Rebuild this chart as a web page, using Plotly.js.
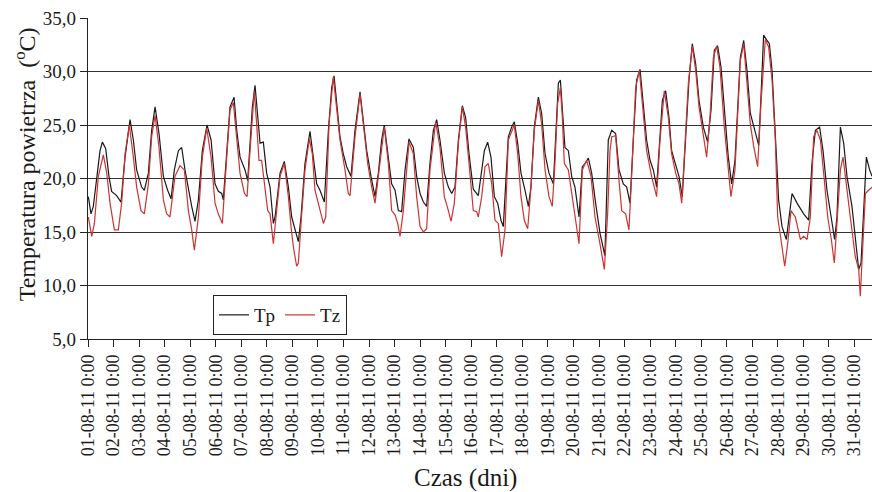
<!DOCTYPE html>
<html>
<head>
<meta charset="utf-8">
<script src="https://cdn.plot.ly/plotly-3.0.1.min.js"></script>
<style>html,body{margin:0;padding:0;background:#fff;}#chart{width:872px;height:492px;}</style>
</head>
<body>
<div id="chart"></div>
<script>
// Day tick labels (one per day, at 0:00)
const dayLabels = ["01-08-11 0:00","02-08-11 0:00","03-08-11 0:00","04-08-11 0:00","05-08-11 0:00","06-08-11 0:00","07-08-11 0:00","08-08-11 0:00","09-08-11 0:00","10-08-11 0:00","11-08-11 0:00","12-08-11 0:00","13-08-11 0:00","14-08-11 0:00","15-08-11 0:00","16-08-11 0:00","17-08-11 0:00","18-08-11 0:00","19-08-11 0:00","20-08-11 0:00","21-08-11 0:00","22-08-11 0:00","23-08-11 0:00","24-08-11 0:00","25-08-11 0:00","26-08-11 0:00","27-08-11 0:00","28-08-11 0:00","29-08-11 0:00","30-08-11 0:00","31-08-11 0:00"];
const dayHours = [0,24,48,72,96,120,144,168,192,216,240,264,288,312,336,360,384,408,432,456,480,504,528,552,576,600,624,648,672,696,720];

// Tp series: hours since 01-08-11 0:00 and temperature
const tpHours = [0.3,2.8,5,8.2,11.3,13.5,16.6,19.7,22.2,26.9,31,34.8,39.5,42.6,45.7,50.4,52.9,56.7,59.8,63,66.7,70.8,74.8,78,81.1,84.9,88,91.1,94.3,97.4,100.5,103.7,107.4,111.8,115.6,119.3,122.4,125.6,127.1,130.3,133.4,137.2,139.7,142.8,147.5,150,152.2,154.4,156.9,159.4,161.6,164.7,167.8,171,174.1,175.7,180.4,184.4,188.2,191.3,194.4,197.6,200.1,203.8,208.5,211.7,214.8,217.9,222,225.8,228.9,231.1,233.6,236.7,239.8,243,247,250.8,255.5,258.6,261.8,265.8,269.6,272.7,275.8,278.3,281.5,285.2,288.4,291.5,294.6,297.8,301.5,305.6,308.7,311.9,315,318.1,321.2,324.4,327.5,330.6,334.7,338.5,341.6,344.7,347.9,351.6,354.7,357.9,361.9,366.6,372.3,375.4,378.5,381.7,384.8,387.9,390.1,392.3,394.8,397.9,400.4,403.6,406.7,410.5,413.6,416.1,419.2,423,426.1,429.3,433,437.1,439.6,441.8,443.7,445.5,448,451.2,454.3,457.4,461.2,464.3,466.8,470,473.1,476.8,480.9,485.5,488.7,491.9,495.6,498.8,502.8,506,509.1,512.2,515.3,518.5,521.6,524.7,527.9,531,534.1,537.3,539.5,542.6,545.7,548.2,551.4,555.1,558.2,561.4,564.5,567.6,570.8,573.9,578,582,585.2,588.3,591.4,594.6,598.3,601.4,604.6,607.7,610.8,612.7,615.9,619,622.1,626.8,630,632.1,634.6,637.8,640,642.5,645.6,648.7,651.9,655.9,661.3,666,672.2,676.9,680,683.2,687.2,690.4,694.1,697.9,701.3,703.5,706.7,709.8,712.9,717.6,721.7,723.9,726.1,728.6,731.1,734.2,736.4];
const tpValues = [18.3,16.7,17.4,19.8,22.6,23.4,22.8,20.2,18.8,18.4,17.8,22,25.5,23.6,20.8,19.2,18.9,20.5,24.5,26.7,24.2,20.2,18.9,18.1,20.8,22.6,22.9,20.8,18.9,17.4,16.0,18,22.6,25,23.6,19.5,18.8,18.6,18.0,22.9,26.7,27.6,24.5,22,20.8,19.8,23.2,26.7,28.7,25.8,23.3,23.4,20.5,19.2,15.8,16.4,20.5,21.6,19.2,16.4,15.2,14.1,16.4,21.4,24.4,22,19.5,18.9,17.8,24.5,28.5,29.6,27,23.9,22.3,21.1,20.2,24.5,28.1,25.5,22.6,20.2,18.3,20.5,23.6,25,22.3,19.5,18.9,17,16.9,20.8,23.7,22.9,20.2,18.6,17.8,17.4,21.4,24.5,25.5,23.6,20.5,19.2,18.6,19.2,23.6,26.8,25.7,22.3,19,18.4,22.6,23.4,22,18.3,17.7,16.1,15.5,19.8,23.9,24.8,25.3,23.3,20.5,18.9,17.4,19.2,24.8,27.6,26.1,22.3,20.5,19.5,24.5,28.9,29.2,26.1,22.9,22.6,20.2,19.2,16.4,21.1,21.4,21.9,20.5,17.7,14.9,12.8,23.6,24.5,24.2,20.8,19.5,19.2,17.7,23.6,29.2,30.2,26.7,23.6,21.7,20.8,19.2,24.2,27.3,28.2,25.7,22.6,21.4,20.2,18.3,24.5,29.2,32.6,30.7,27.3,24.8,23.4,26.4,32,32.4,30.4,25.4,22,19.5,21.7,27.6,31.3,32.9,30.1,26.1,24.2,23.1,27.6,33.4,32.9,32.6,30.1,24.5,18,15.5,14.3,18.6,17.7,16.7,16.1,21.4,24.5,24.8,22.6,18.9,16.4,14.3,16.4,24.8,23.3,20.2,17.4,13.9,11.5,12.1,17,22,20.8,20.2];

// Tz series
const tzHours = [0.3,3.5,6,9.7,14.4,17.6,20.7,24.8,28.5,31.6,34.8,38.8,42.6,45.7,49.8,52.9,56.7,59.8,63,66.7,70.8,73.9,77,81.7,86.4,90.5,94.3,97.4,99.9,103.7,107.4,111.5,115.6,119.3,122.4,126.2,130.3,133.4,136.5,139.7,142.8,146.9,149.4,152.2,156.2,158.4,160.6,163.1,166.3,168.8,171,174.1,177.2,180.4,184.4,188.2,190.7,192.9,196,197.6,200.1,203.8,207.9,210.7,213.2,217,221.1,223.3,226.4,230.4,233.6,236.7,241.4,244.5,246.1,250.8,255.5,258.6,262.7,266.5,269.6,272.7,278.3,282.1,285.2,288.4,290.9,293.1,296.2,301.5,305.6,308.7,311.9,315,318.1,321.2,326.6,330.6,334.7,338.5,341,344.1,347.9,351.6,354.7,357.9,361.9,365.1,366.6,369.8,372.9,376,379.2,382.3,385.4,388.5,391.7,394.8,400.4,403.6,406.7,409.8,413,416.1,419.2,423,426.1,429.3,433,436.1,438.6,441.1,443.7,445.5,447.4,451.2,454.3,457.4,461.2,464.3,468.4,472.5,476.2,480.9,485,488.1,490.3,491.9,495.6,498.8,501.3,505,508.1,510.6,514.4,517.9,521.6,524.7,529.4,534.1,537.3,541.3,545.1,548.2,552,555.1,557.7,560.8,563.9,567.6,570.8,573.9,578,581.1,584.2,587.4,590.5,593.6,597.7,601.4,603.9,607.7,610.8,612.7,615.9,619,622.1,625.3,629,632.1,636.2,639.3,642.5,645.6,647.8,650.9,654.4,657.2,660.3,664.4,669.1,672.2,675.4,678.5,681.6,684.7,687.9,691,694.8,698.2,701,703.5,706.7,709.2,712.3,716,720.7,723.9,725.4,728,730.2,733.3,736.4];
const tzValues = [16.4,14.6,15.8,20.2,22.2,20.5,17.7,15.2,15.2,17.7,22.3,25,22,19.2,17,16.7,19.5,23.9,25.9,22.9,18,16.7,16.4,20.2,21.2,20.8,17,15.2,13.3,16.4,22,24.7,22,17.7,16.7,15.8,22,26.4,27.1,23.9,20.5,18.6,18.3,22.6,28.2,25.1,21.7,21.7,19.2,17,16.7,13.9,17,20.2,21.4,18.3,15.5,13.6,11.8,12.1,15.8,20.8,23.7,22.3,18.9,17.4,15.8,16.4,25.1,29.5,26.7,23.6,20.8,18.6,18.4,23.9,27.9,24.8,21.4,19.2,17.7,20.2,24.8,21.4,17,16.6,15.8,14.6,17,23.4,22.3,18.3,15.5,15,15.3,20.8,25.3,22.9,18.3,17,16,17.7,23.3,26.7,24.8,21.4,17,16.9,16.4,18.3,21.1,21.4,19.5,16.1,15.8,12.7,15.2,23.6,25,22.3,18.3,16.1,15.3,19.2,24.5,27.3,25.1,20.8,18.3,17.4,21.4,27,28.5,25.8,21.4,20.8,18.6,16.7,13.9,20.8,21.7,20.2,16.4,13.9,11.5,16.7,22.6,23.9,24,19.8,17,16.7,15.2,20.2,28.5,30.1,26.1,22.6,20.2,18.3,23.6,28.2,25.7,22.3,20.5,19.5,17.7,23.6,28.9,32.4,30.1,26.7,24.2,22,25.7,31.3,32.4,30.4,24.8,20.8,18.3,20.8,26.7,31,32.6,29.2,25.1,23,21.1,27,33,32.3,29.2,23.6,16.4,14.3,11.8,13.9,17,16.4,14.3,14.6,14.3,16.4,23.9,24.5,23.6,20.5,16.4,14.3,12.1,15.8,20.8,22,19.2,16.4,12.7,11.5,9,13.9,18.6,18.9,19.2];

const serif = "'Liberation Serif', 'Times New Roman', serif";

const traces = [
  {x: tpHours, y: tpValues, name: 'Tp', type: 'scatter', mode: 'lines',
   line: {color: '#1a1a1a', width: 1.2}},
  {x: tzHours, y: tzValues, name: 'Tz', type: 'scatter', mode: 'lines',
   line: {color: '#cc3333', width: 1.2}}
];

const layout = {
  width: 872, height: 492,
  margin: {l: 88, r: 0, t: 18, b: 153, pad: 0},
  paper_bgcolor: '#ffffff', plot_bgcolor: '#ffffff',
  separators: ', ',
  font: {family: serif, color: '#1a1a1a', size: 18},
  showlegend: true,
  legend: {orientation: 'h', x: 0.1594, y: 0.137, xanchor: 'left', yanchor: 'top',
           bordercolor: '#222', borderwidth: 1, bgcolor: '#ffffff',
           font: {family: serif, size: 19, color: '#1a1a1a'}},
  xaxis: {
    range: [0, 736.4], tickmode: 'array', tickvals: dayHours, ticktext: dayLabels,
    tickangle: -90, ticks: 'outside', ticklen: 7, tickcolor: '#222', tickwidth: 1,
    showline: true, linecolor: '#222', linewidth: 1.2, showgrid: false, zeroline: false,
    tickfont: {family: serif, size: 18, color: '#1a1a1a'}
  },
  yaxis: {
    range: [5, 35], dtick: 5, tick0: 5, tickformat: '.1f',
    ticks: 'outside', ticklen: 7, tickcolor: '#222', tickwidth: 1,
    showline: true, linecolor: '#222', linewidth: 1.2,
    showgrid: true, gridcolor: '#333333', gridwidth: 1, zeroline: false,
    tickfont: {family: serif, size: 19, color: '#1a1a1a'}
  },
  annotations: [
    {text: 'Czas (dni)', xref: 'paper', yref: 'paper', x: 0.481, y: -0.433,
     xanchor: 'center', yanchor: 'middle', showarrow: false,
     font: {family: serif, size: 25, color: '#1a1a1a'}},
    {text: 'Temperatura powietrza  (<sup>o</sup>C)', xref: 'paper', yref: 'paper',
     x: -0.08, y: 0.545, xanchor: 'center', yanchor: 'middle', textangle: -90, showarrow: false,
     font: {family: serif, size: 24, color: '#1a1a1a'}}
  ]
};

Plotly.newPlot('chart', traces, layout, {displayModeBar: false, staticPlot: true});
</script>
</body>
</html>
